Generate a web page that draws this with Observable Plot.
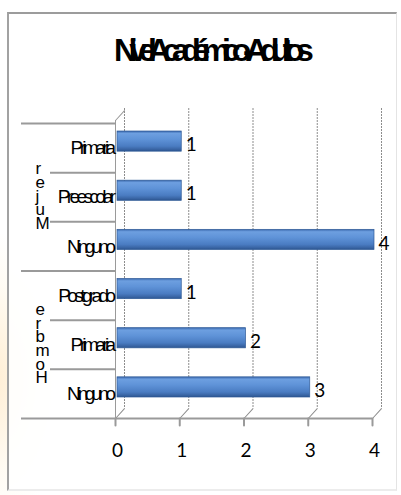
<!DOCTYPE html>
<html><head><meta charset="utf-8">
<script src="https://cdn.jsdelivr.net/npm/d3@7"></script>
<script src="https://cdn.jsdelivr.net/npm/@observablehq/plot@0.6"></script>
<style>
body{margin:0;background:#fff;}
#wrap{position:relative;width:401px;height:495px;overflow:hidden;background:#fff;}
#glow{position:absolute;left:-40px;top:230px;width:110px;height:270px;background:radial-gradient(ellipse at 30% 55%,rgba(255,205,130,0.35),rgba(255,225,160,0.12) 45%,rgba(255,240,200,0) 70%);}
#frame{position:absolute;left:7px;top:12px;width:390px;height:479px;box-sizing:border-box;border-left:2px solid #a2a2a2;border-top:2px solid #9c9c9c;border-right:1px solid #e4e4e4;border-bottom:2px solid #ececec;background:rgba(255,255,255,0.88);}
#title{position:absolute;top:34px;left:114px;white-space:nowrap;font-family:'Liberation Sans',Arial,sans-serif;font-weight:bold;font-size:32px;line-height:32px;letter-spacing:-8.4px;color:#000;}
#chart{position:absolute;left:0;top:0;}
</style>
</head><body>
<div id="wrap"><div id="glow"></div><div id="frame"></div><div id="chart"></div><div id="title"></div></div>
<script>
const title = "Nivel Académico-Adultos";
const groups = ["Mujer","Mujer","Mujer","Hombre","Hombre","Hombre"];
const levels = ["Primaria","Preescolar","Ninguno","Postgrado","Primaria","Ninguno"];
const counts = [1,1,4,1,2,3];
const xTicks = [0,1,2,3,4];

const rows = levels.map((l,i)=>({i, group: groups[i], level: l, count: counts[i]}));
const groupNames = [...new Set(groups)];
const groupRows = groupNames.map(g=>{
  const idx = rows.filter(r=>r.group===g).map(r=>r.i);
  return {group:g, start: d3.min(idx), end: d3.max(idx)+1, mid: (d3.min(idx)+d3.max(idx)+1)/2};
});
const outer = [...new Set(groupRows.flatMap(g=>[g.start]))];
const inner = rows.map(r=>r.i).filter(i=>!outer.includes(i));
const bottom = [rows.length];

document.getElementById("title").textContent = title;

const lineShape = {draw(ctx, l){ ctx.moveTo(0,0); ctx.lineTo(0,-l); }};

const defs = () => {
  const d = d3.create("svg:defs");
  const g = d.append("linearGradient").attr("id","barGrad").attr("x1",0).attr("y1",0).attr("x2",0).attr("y2",1);
  [[0,"#3a68ad"],[0.12,"#6d9fe0"],[0.4,"#5f93d8"],[0.75,"#4a7cc2"],[0.9,"#3a66a6"],[1,"#2c5590"]]
    .forEach(([o,c])=>g.append("stop").attr("offset",o).attr("stop-color",c));
  return d.node();
};

const grid = "#8d8d8d";
const wall = "#9a9a9a";

const chart = Plot.plot({
  width: 401, height: 495,
  marginLeft: 115, marginRight: 29, marginTop: 123, marginBottom: 77,
  x: {domain:[0,4], range:[115,372], axis:null},
  y: {domain:[0,6], range:[123,418], axis:null},
  style: {background:"transparent", overflow:"visible"},
  marks: [
    defs,
    Plot.ruleX(xTicks, {x: d=>d, dx: 9, dy: -10, insetTop: -5, stroke: grid, strokeWidth: 1, strokeDasharray: "2,1"}),
    Plot.vector(xTicks, {x: d=>d, frameAnchor: "bottom", length: 13.4, rotate: 42, anchor: "start", shape: lineShape, stroke: grid, strokeWidth: 1}),
    Plot.ruleX([0], {x: d=>d, insetTop: -3, stroke: wall, strokeWidth: 1}),
    Plot.vector([0], {x: d=>d, frameAnchor: "top", dy: -3, length: 13.4, rotate: 42, anchor: "start", shape: lineShape, stroke: wall, strokeWidth: 1}),
    Plot.ruleY(outer, {y: d=>d, x1: 0, x2: 0, insetLeft: -94, stroke: wall, strokeWidth: 2}),
    Plot.ruleY(inner, {y: d=>d, x1: 0, x2: 0, insetLeft: -65, stroke: wall, strokeWidth: 2}),
    Plot.ruleY(bottom, {y: d=>d, insetLeft: -94, stroke: wall, strokeWidth: 2}),
    Plot.vector(xTicks, {x: d=>d, frameAnchor: "bottom", length: 7, rotate: 180, anchor: "start", shape: lineShape, stroke: wall, strokeWidth: 2}),
    Plot.rect(rows, {x1: 0, x2: "count", y1: "i", y2: d=>d.i+1, insetTop: 8, insetBottom: 21, dx: 2,
      fill: "url(#barGrad)", stroke: "#2f5b98", strokeWidth: 0.7}),
    Plot.text(rows, {x: "count", y: d=>d.i+0.5, text: d=>String(d.count), textAnchor: "start", dx: 6, dy: -3,
      fontFamily: "Lato", fontSize: 19, fill: "#000"}),
    Plot.text(rows, {x: 0, y: d=>d.i+0.5, text: "level", textAnchor: "end", dx: -3,
      fontFamily: "Liberation Sans", fontSize: 19, fill: "#000"}),
    Plot.text(groupRows, {x: 0, y: "mid", text: d=>d.group.split("").reverse().join("\n"), lineHeight: 0.8,
      textAnchor: "start", dx: -80, fontFamily: "Arial", fontSize: 17, fill: "#000"}),
    Plot.text(xTicks, {x: d=>d, frameAnchor: "bottom", text: d=>String(d), dy: 38, dx: 2,
      fontFamily: "Lato", fontSize: 19, fill: "#000"})
  ]
});
document.getElementById("chart").appendChild(chart);
d3.select(chart).selectAll('g[font-family="Liberation Sans"] text').style("letter-spacing","-3.6px");
</script>
</body></html>
